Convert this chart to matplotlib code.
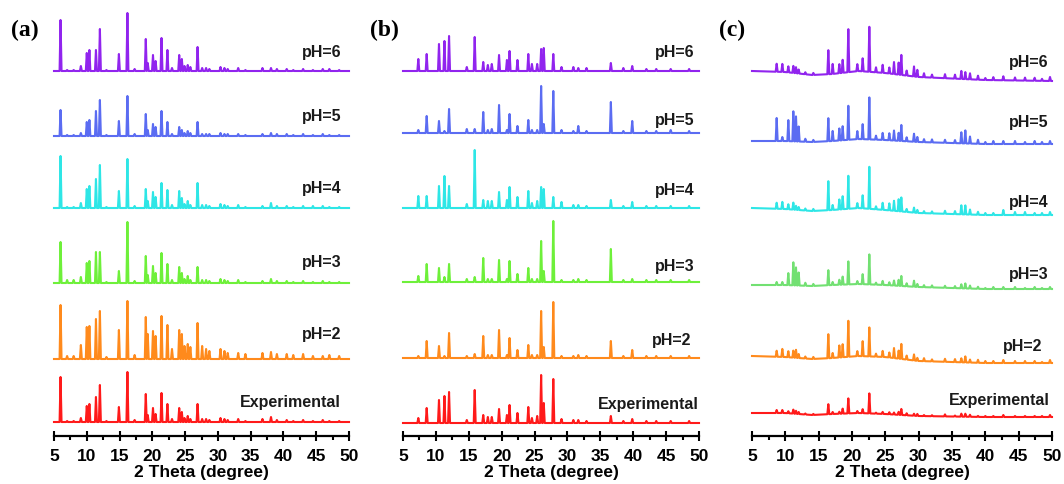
import numpy as np
import matplotlib
matplotlib.use("Agg")
import matplotlib.pyplot as plt
from matplotlib.ticker import MultipleLocator

plt.rcParams['font.family'] = ['Liberation Sans', 'DejaVu Sans']

TRACES = ["pH=6", "pH=5", "pH=4", "pH=3", "pH=2", "Experimental"]
COLORS_AB = ["#9124ee", "#5b6cf2", "#2ee6e6", "#6ef03a", "#ff8a1c", "#ff1a1a"]
COLORS_C = ["#9124ee", "#5b6cf2", "#2ee6e6", "#72e072", "#ff8a1c", "#ff1a1a"]

# ---------------- panel (a) ----------------
A_POS = [6.0, 7.0, 8.0, 9.1, 10.0, 10.4, 11.4, 12.0, 13.0, 14.9, 16.2, 17.3, 19.0, 19.3,
         20.1, 20.5, 21.4, 22.3, 23.0, 24.1, 24.5, 24.9, 25.4, 25.8, 26.9, 27.6, 28.2, 28.7,
         30.4, 31.0, 31.5, 33.1, 34.2, 36.8, 38.1, 39.0, 40.5, 41.5, 43.0, 44.5, 46.0, 47.0, 48.5]
A_PH6 = [51, 1, 1, 5, 18, 21, 21, 42, 1, 17, 58, 2, 32, 8, 16, 10, 33, 21, 3, 16, 12, 5, 6, 4,
         24, 3, 3, 2, 4, 3, 2, 3, 1, 3, 3, 2, 2, 1, 2, 1, 2, 2, 1]
A_PH5 = [26, 1, 1, 3, 14, 16, 25, 36, 1, 15, 40, 2, 22, 6, 12, 9, 25, 14, 2, 9, 6, 3, 5, 3,
         14, 2, 2, 2, 3, 2, 2, 2, 1, 2, 3, 2, 2, 1, 2, 1, 2, 1, 1]
A_PH4 = [52, 1, 1, 5, 19, 22, 29, 43, 1, 17, 49, 2, 19, 7, 16, 11, 25, 18, 3, 17, 10, 4, 7, 3,
         25, 3, 3, 2, 4, 3, 2, 3, 1, 2, 5, 2, 2, 1, 2, 2, 2, 1, 1]
A_PH3 = [41, 3, 3, 6, 20, 22, 31, 31, 1, 12, 61, 2, 27, 8, 17, 10, 30, 19, 3, 16, 10, 4, 7, 3,
         16, 3, 3, 2, 4, 3, 2, 3, 1, 2, 4, 2, 2, 1, 2, 1, 2, 1, 1]
A_PH2 = [54, 3, 3, 14, 32, 33, 40, 48, 2, 29, 58, 4, 42, 25, 28, 23, 43, 34, 10, 29, 25, 13, 15, 12,
         36, 13, 10, 8, 10, 8, 6, 6, 5, 6, 7, 5, 5, 4, 5, 3, 3, 4, 3]
A_EXP = [45, 1, 1, 4, 16, 18, 25, 37, 1, 15, 50, 2, 28, 7, 14, 8, 29, 18, 3, 14, 10, 4, 6, 3,
         18, 3, 3, 2, 4, 3, 2, 3, 1, 3, 5, 2, 2, 1, 2, 1, 2, 1, 1]
A_BASE = [365, 300, 228, 153, 77, 14]

# ---------------- panel (b) ----------------
B_POS = [7.33, 8.6, 10.47, 11.3, 12.0, 14.7, 15.9, 17.2, 17.9, 18.5, 19.6, 20.8, 21.2, 22.4,
         24.05, 24.6, 25.4, 26.0, 26.4, 27.85, 29.1, 30.9, 31.65, 32.9, 36.6, 38.5, 39.85,
         42.0, 43.5, 45.7, 48.5]
B_PH6 = [12, 17, 27, 30, 35, 4, 34, 9, 6, 7, 16, 11, 20, 11, 17, 7, 7, 22, 23, 17, 4, 4, 3, 3,
         8, 3, 5, 2, 2, 2, 2]
B_PH5 = [3, 17, 12, 2, 24, 4, 4, 21, 3, 4, 28, 3, 19, 7, 13, 3, 3, 47, 9, 42, 3, 2, 7, 2,
         31, 2, 12, 2, 2, 3, 2]
B_PH4 = [12, 12, 22, 32, 22, 4, 58, 8, 7, 7, 16, 8, 21, 11, 17, 5, 7, 21, 19, 11, 6, 3, 3, 2,
         8, 2, 6, 2, 2, 2, 2]
B_PH3 = [6, 18, 14, 5, 18, 3, 5, 24, 3, 3, 22, 3, 21, 8, 14, 3, 3, 41, 11, 61, 2, 2, 3, 2,
         33, 2, 3, 2, 2, 2, 2]
B_PH2 = [2, 17, 12, 2, 25, 2, 4, 22, 3, 3, 28, 3, 20, 8, 13, 3, 3, 47, 11, 56, 2, 2, 3, 2,
         17, 2, 8, 2, 2, 2, 2]
B_EXP = [5, 15, 23, 27, 31, 3, 33, 8, 6, 6, 14, 8, 18, 10, 16, 5, 7, 48, 20, 44, 4, 3, 3, 2,
         7, 2, 4, 2, 2, 2, 2]
B_BASE = [365, 303, 228, 154, 78, 13]

# ---------------- panel (c) ----------------
C_POS = [8.7, 9.55, 10.45, 11.2, 11.6, 12.0, 13.0, 14.2, 16.45, 17.1, 18.1, 18.6, 19.45, 20.8,
         21.6, 22.6, 23.6, 24.6, 25.6, 26.3, 27.0, 27.4, 28.2, 29.3, 29.8, 30.8, 32.0, 33.95,
         35.45, 36.4, 37.0, 37.7, 38.9, 40.0, 41.2, 42.7, 44.45, 45.95, 47.4, 48.5, 49.7]
C_PH6 = [8, 8, 6, 7, 6, 4, 2, 2, 24, 10, 9, 13, 43, 7, 13, 45, 5, 8, 6, 12, 12, 20, 5, 10, 7,
         4, 3, 4, 4, 8, 7, 6, 4, 2, 3, 4, 3, 3, 3, 2, 4]
C_PH5 = [23, 4, 21, 30, 25, 15, 3, 2, 23, 10, 12, 14, 34, 8, 15, 42, 4, 7, 7, 10, 8, 16, 4, 8, 5,
         3, 3, 3, 3, 11, 13, 7, 4, 2, 3, 3, 3, 2, 3, 2, 3]
C_PH4 = [6, 7, 5, 7, 4, 3, 2, 2, 29, 5, 10, 13, 33, 5, 13, 42, 3, 7, 7, 10, 12, 14, 3, 5, 3,
         2, 2, 3, 3, 9, 9, 5, 3, 2, 2, 5, 3, 3, 2, 2, 3]
C_PH3 = [3, 3, 12, 23, 18, 13, 3, 2, 15, 3, 5, 8, 23, 3, 10, 30, 2, 4, 3, 5, 6, 10, 3, 6, 3,
         2, 2, 2, 2, 4, 5, 3, 2, 1, 2, 2, 2, 1, 2, 1, 2]
C_PH2 = [6, 8, 6, 7, 8, 4, 2, 2, 24, 5, 12, 13, 36, 5, 15, 29, 3, 6, 5, 10, 8, 15, 4, 6, 3,
         3, 2, 3, 3, 4, 6, 3, 3, 2, 2, 3, 2, 2, 2, 1, 3]
C_EXP = [3, 3, 2, 4, 3, 2, 1, 1, 10, 2, 2, 5, 15, 2, 4, 20, 1, 2, 2, 2, 3, 6, 2, 2, 2,
         1, 1, 2, 1, 3, 3, 2, 1, 1, 1, 2, 1, 1, 1, 1, 2]
C_BASE_X = [5, 10, 14, 17, 21, 25, 30, 40, 50]
C_BASE = [[365, 364, 361, 362, 365, 363, 359, 356, 355],
          [295, 295, 294, 295, 297, 296, 294, 292, 292],
          [228, 227, 225, 226, 228, 226, 223, 221, 221],
          [151, 151, 150, 151, 152, 151, 149, 147, 147],
          [80, 79, 77, 78, 80, 79, 75, 73, 73],
          [23, 23, 21, 22, 23, 22, 20, 19, 19]]

# label anchor positions (x in degrees, y in axis units)
A_LBL = [(48.8, 384), (48.8, 320), (48.8, 249), (48.8, 175), (48.8, 102), (48.8, 34)]
B_LBL = [(49.4, 384), (49.4, 317), (49.4, 246), (49.4, 171), (48.9, 97), (50.0, 33)]
C_LBL = [(49.5, 375), (49.5, 314), (49.5, 235), (49.5, 162), (48.6, 90), (49.7, 37)]

W = 0.15


def build(pos, hts, bx, by):
    xs = [5.0]
    ys = [0.0]
    for p, h in zip(pos, hts):
        xs += [p - W, p, p + W]
        ys += [0.0, h, 0.0]
    xs.append(50.0)
    ys.append(0.0)
    xs = np.array(xs)
    ys = np.array(ys) + np.interp(xs, bx, by)
    return xs, ys


fig = plt.figure(figsize=(10.64, 4.85), dpi=100)
H = 437.0
bottom = 1 - H / 485.0
height = H / 485.0
panels = [
    ("(a)", 54, 295, A_POS, [A_PH6, A_PH5, A_PH4, A_PH3, A_PH2, A_EXP],
     [([5, 50], [b, b]) for b in A_BASE], A_LBL, COLORS_AB, 11),
    ("(b)", 403, 296, B_POS, [B_PH6, B_PH5, B_PH4, B_PH3, B_PH2, B_EXP],
     [([5, 50], [b, b]) for b in B_BASE], B_LBL, COLORS_AB, 370),
    ("(c)", 752, 300, C_POS, [C_PH6, C_PH5, C_PH4, C_PH3, C_PH2, C_EXP],
     [(C_BASE_X, b) for b in C_BASE], C_LBL, COLORS_C, 719),
]

for tag, left_px, w_px, pos, series, bases, lbls, cols, tag_x in panels:
    ax = fig.add_axes([left_px / 1064, bottom, w_px / 1064, height])
    for hts, (bx, by), (lx, ly), c, name in zip(series, bases, lbls, cols, TRACES):
        xs, ys = build(pos, hts, bx, by)
        ax.plot(xs, ys, color=c, lw=1.5, solid_joinstyle='round', clip_on=False)
        ax.text(lx, ly, name, ha='right', va='center', fontsize=11.5,
                fontweight='bold', color='#1a1a1a')
    ax.set_xlim(5, 50)
    ax.set_ylim(0, H)
    for s in ['left', 'right', 'top']:
        ax.spines[s].set_visible(False)
    ax.spines['bottom'].set_linewidth(1.6)
    ax.set_yticks([])
    ax.xaxis.set_major_locator(MultipleLocator(5))
    ax.xaxis.set_minor_locator(MultipleLocator(2.5))
    ax.tick_params(axis='x', which='major', direction='inout', length=7, width=1.5,
                   labelsize=12.5, pad=5)
    ax.tick_params(axis='x', which='minor', direction='out', length=3, width=1.5)
    for lab in ax.get_xticklabels():
        lab.set_fontweight('bold')
    ax.set_xlabel("2 Theta (degree)", fontsize=12.5, fontweight='bold', labelpad=1)
    fig.text(tag_x / 1064, 1 - 30 / 485, tag, ha='left', va='center', fontsize=17,
             fontweight='bold', family=['Liberation Serif', 'DejaVu Serif'])

fig.savefig("out.png", dpi=100)
